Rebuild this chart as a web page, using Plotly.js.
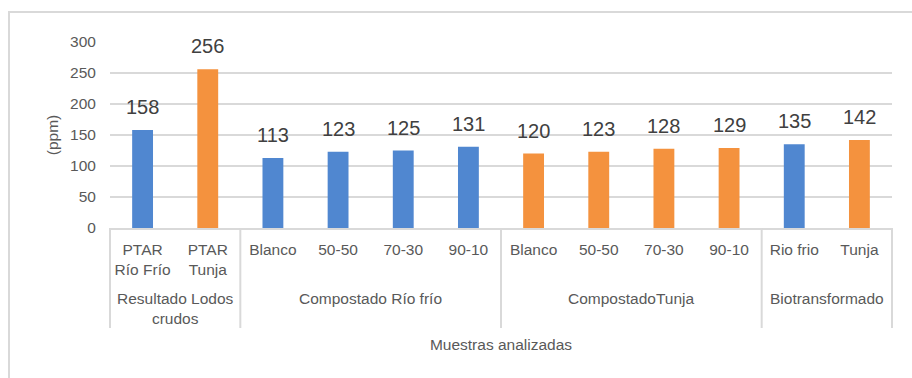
<!DOCTYPE html>
<html>
<head>
<meta charset="utf-8">
<script src="https://cdn.plot.ly/plotly-3.0.1.min.js"></script>
<style>
  html, body { margin: 0; padding: 0; background: #ffffff; }
  #wrap { position: relative; width: 912px; height: 378px; overflow: hidden; }
  #chart { position: absolute; left: 0; top: 0; width: 912px; height: 378px; }
  #frame { position: absolute; left: 8px; top: 11px; width: 1000px; height: 500px;
           border: 2px solid #d9d9d9; pointer-events: none; }
</style>
</head>
<body>
<div id="wrap">
  <div id="chart"></div>
  <div id="frame"></div>
</div>
<script>
// ---- data ----
const groupNames = ["Resultado Lodos<br>crudos", "Compostado Río frío", "CompostadoTunja", "Biotransformado"];
const groupSizes = [2, 4, 4, 2];
const sampleLabels = ["PTAR<br>Río Frío", "PTAR<br>Tunja", "Blanco", "50-50", "70-30", "90-10",
                      "Blanco", "50-50", "70-30", "90-10", "Rio frio", "Tunja"];
const values = [158, 256, 113, 123, 125, 131, 120, 123, 128, 129, 135, 142];
const origin = ["Río Frío", "Tunja", "Río Frío", "Río Frío", "Río Frío", "Río Frío",
                "Tunja", "Tunja", "Tunja", "Tunja", "Río Frío", "Tunja"];
const yTickVals = [0, 50, 100, 150, 200, 250, 300];

// ---- styling ----
const FONT = '"Liberation Sans", Arial, sans-serif';
const colorMap = { "Río Frío": "#5087d0", "Tunja": "#f4923e" };
const gridColor = "#d9d9d9";
const xIdx = sampleLabels.map((_, i) => i);
const xRange = [-0.5, sampleLabels.length - 0.5];
const toPaper = v => (v - xRange[0]) / (xRange[1] - xRange[0]);

const trace = {
  type: "bar",
  x: xIdx,
  y: values,
  marker: { color: origin.map(o => colorMap[o]) },
  hoverinfo: "none"
};

// value labels
const annotations = values.map((v, i) => ({
  x: xIdx[i], y: v, xref: "x", yref: "y",
  text: String(v), showarrow: false,
  yanchor: "bottom", yshift: 10,
  font: { family: FONT, size: 20, color: "#404040" }
}));

// group labels + dividers
const shapes = [];
const divider = b => ({
  type: "line", xref: "paper", yref: "paper", ysizemode: "pixel", yanchor: 0,
  x0: toPaper(b), x1: toPaper(b), y0: 0, y1: -100,
  line: { color: gridColor, width: 2 }
});
let start = 0;
shapes.push(divider(start - 0.5));
groupNames.forEach((g, k) => {
  const end = start + groupSizes[k];
  annotations.push({
    x: (start + end - 1) / 2, xref: "x", y: 0, yref: "paper",
    yanchor: "top", yshift: -60, text: g, showarrow: false,
    font: { family: FONT, size: 15.5, color: "#595959" }
  });
  shapes.push(divider(end - 0.5));
  start = end;
});

const layout = {
  width: 912, height: 378,
  margin: { l: 110, r: 20, t: 42, b: 150 },
  paper_bgcolor: "rgba(0,0,0,0)",
  plot_bgcolor: "rgba(0,0,0,0)",
  font: { family: FONT, color: "#595959", size: 15.5 },
  showlegend: false,
  bargap: 0.68,
  xaxis: {
    type: "linear",
    range: xRange,
    tickmode: "array", tickvals: xIdx, ticktext: sampleLabels,
    ticks: "outside", ticklen: 6, tickcolor: "rgba(0,0,0,0)",
    showgrid: false, zeroline: false,
    showline: true, linecolor: gridColor, linewidth: 2,
    tickfont: { family: FONT, size: 15.5, color: "#595959" },
    title: { text: "Muestras analizadas", standoff: 62,
             font: { family: FONT, size: 15.5, color: "#595959" } },
    fixedrange: true
  },
  yaxis: {
    range: [0, 300],
    tickmode: "array", tickvals: yTickVals,
    ticks: "outside", ticklen: 10, tickcolor: "rgba(0,0,0,0)",
    showgrid: true, gridcolor: gridColor, gridwidth: 2,
    zeroline: false, showline: false,
    tickfont: { family: FONT, size: 15.5, color: "#595959" },
    title: { text: "(ppm)", standoff: 7,
             font: { family: FONT, size: 15.5, color: "#595959" } },
    fixedrange: true
  },
  annotations: annotations,
  shapes: shapes
};

Plotly.newPlot("chart", [trace], layout, { displayModeBar: false, staticPlot: true });
</script>
</body>
</html>
